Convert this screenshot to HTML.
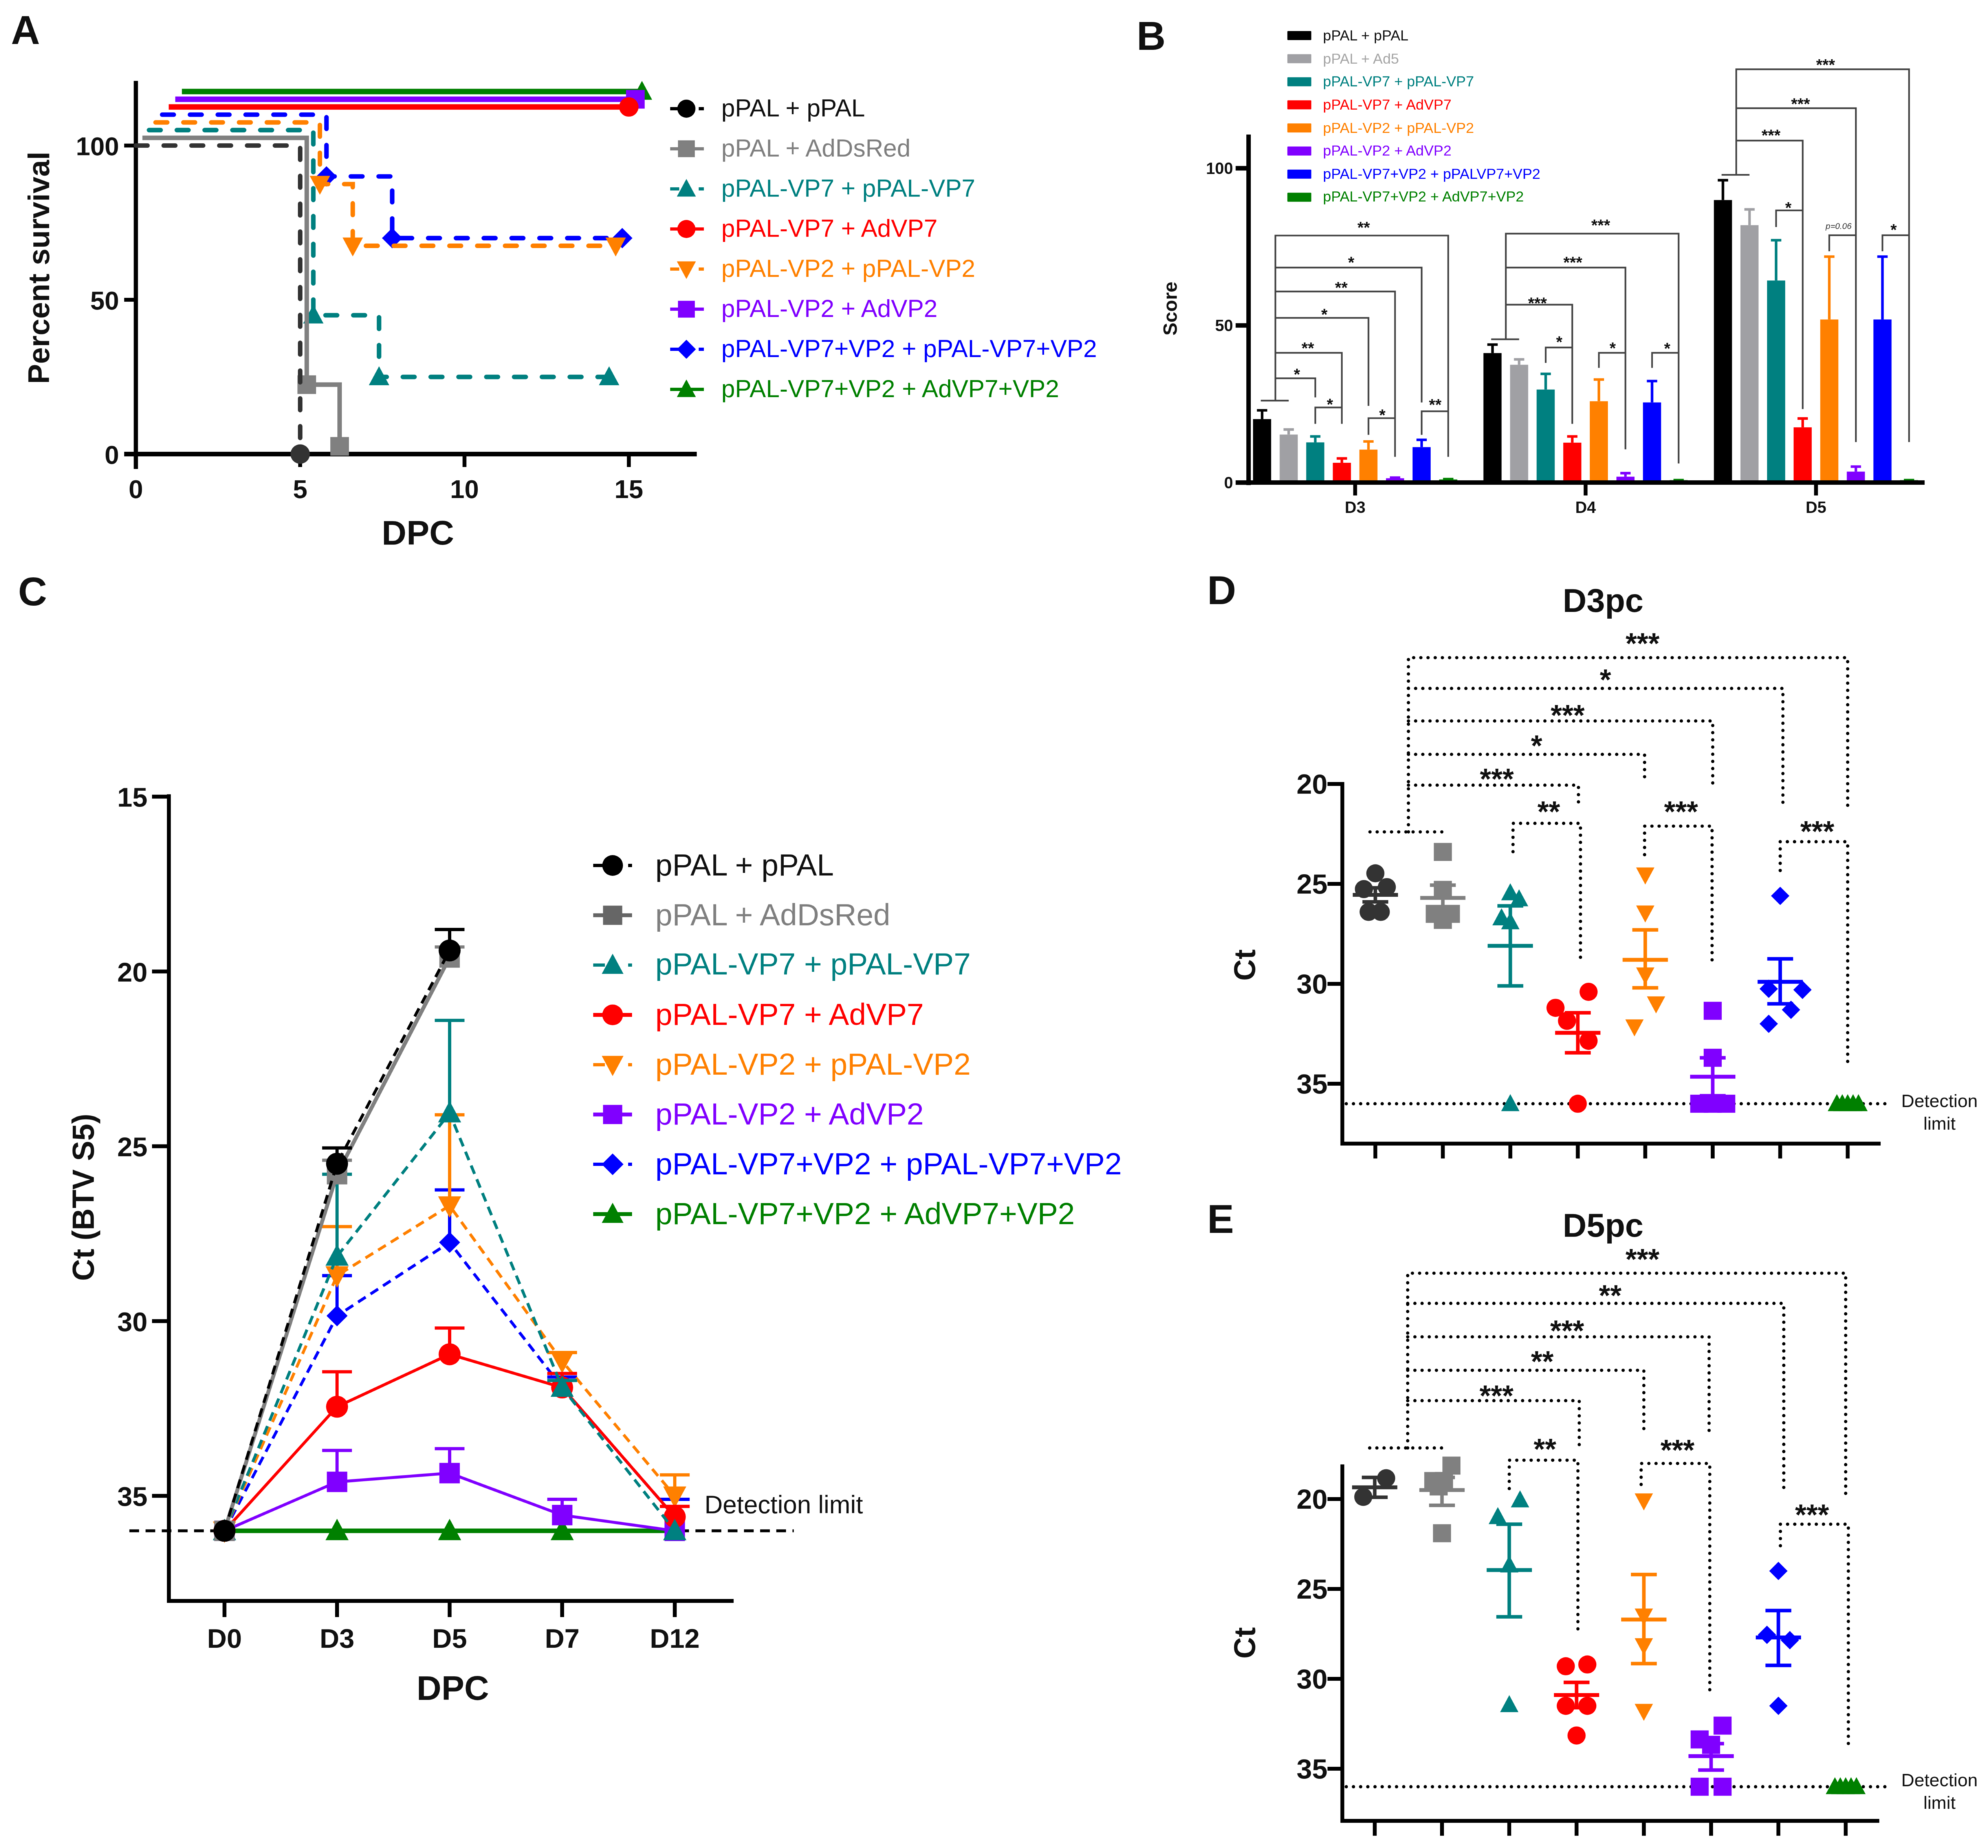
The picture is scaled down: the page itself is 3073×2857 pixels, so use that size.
<!DOCTYPE html>
<html lang="en">
<head>
<meta charset="utf-8">
<title>BTV vaccine survival, score and Ct panels</title>
<style>
html,body{margin:0;padding:0;background:#fff;}
svg{display:block;font-family:"Liberation Sans",sans-serif;filter:blur(0.6px);}
.letter{font-size:62px;font-weight:bold;fill:#111;}
.ti{font-weight:bold;fill:#111;text-anchor:middle;}
.la{font-size:38px;dominant-baseline:central;}
.lb{font-size:22.6px;dominant-baseline:central;}
.lc{font-size:47.2px;dominant-baseline:central;}
.dl{font-size:28px;text-anchor:middle;fill:#111;dominant-baseline:central;}
</style>
</head>
<body>
<svg xmlns="http://www.w3.org/2000/svg" width="3073" height="2857" viewBox="0 0 3073 2857">
<rect width="3073" height="2857" fill="#fff"/>

<g id="panelA">
<text class="letter" x="17" y="68">A</text>
<text class="ti" font-size="46.5" transform="translate(76,414) rotate(-90)">Percent survival</text>
<text class="ti" font-size="53" x="646" y="842">DPC</text>
<g>
<text class="la" x="1115" y="168" fill="#111">pPAL + pPAL</text>
<text class="la" x="1115" y="230" fill="#808080">pPAL + AdDsRed</text>
<text class="la" x="1115" y="292" fill="#008080">pPAL-VP7 + pPAL-VP7</text>
<text class="la" x="1115" y="354" fill="#ff0000">pPAL-VP7 + AdVP7</text>
<text class="la" x="1115" y="416" fill="#ff8000">pPAL-VP2 + pPAL-VP2</text>
<text class="la" x="1115" y="478" fill="#8000ff">pPAL-VP2 + AdVP2</text>
<text class="la" x="1115" y="540" fill="#0000ff">pPAL-VP7+VP2 + pPAL-VP7+VP2</text>
<text class="la" x="1115" y="602" fill="#008000">pPAL-VP7+VP2 + AdVP7+VP2</text>
</g>
</g>

<g id="panelB">
<text class="letter" x="1757" y="77">B</text>
<text class="ti" font-size="30" transform="translate(1819,477) rotate(-90)">Score</text>
<g>
<text class="lb" x="2045" y="55" fill="#111">pPAL + pPAL</text>
<text class="lb" x="2045" y="91" fill="#a6a6a6">pPAL + Ad5</text>
<text class="lb" x="2045" y="126" fill="#008080">pPAL-VP7 + pPAL-VP7</text>
<text class="lb" x="2045" y="162" fill="#ff0000">pPAL-VP7 + AdVP7</text>
<text class="lb" x="2045" y="198" fill="#ff8000">pPAL-VP2 + pPAL-VP2</text>
<text class="lb" x="2045" y="233" fill="#8000ff">pPAL-VP2 + AdVP2</text>
<text class="lb" x="2045" y="269" fill="#0000ff">pPAL-VP7+VP2 + pPALVP7+VP2</text>
<text class="lb" x="2045" y="304" fill="#008000">pPAL-VP7+VP2 + AdVP7+VP2</text>
</g>
</g>

<g id="panelC">
<text class="letter" x="28" y="936">C</text>
<text class="ti" font-size="47" transform="translate(145,1851) rotate(-90)">Ct (BTV S5)</text>
<text class="ti" font-size="53" x="700" y="2628">DPC</text>
<text x="1089" y="2327" font-size="39" fill="#111" dominant-baseline="central">Detection limit</text>
<g>
<text class="lc" x="1013" y="1338" fill="#111">pPAL + pPAL</text>
<text class="lc" x="1013" y="1415" fill="#808080">pPAL + AdDsRed</text>
<text class="lc" x="1013" y="1491" fill="#008080">pPAL-VP7 + pPAL-VP7</text>
<text class="lc" x="1013" y="1569" fill="#ff0000">pPAL-VP7 + AdVP7</text>
<text class="lc" x="1013" y="1646" fill="#ff8000">pPAL-VP2 + pPAL-VP2</text>
<text class="lc" x="1013" y="1723" fill="#8000ff">pPAL-VP2 + AdVP2</text>
<text class="lc" x="1013" y="1800" fill="#0000ff">pPAL-VP7+VP2 + pPAL-VP7+VP2</text>
<text class="lc" x="1013" y="1877" fill="#008000">pPAL-VP7+VP2 + AdVP7+VP2</text>
</g>
</g>

<g id="panelD">
<text class="letter" x="1866" y="934">D</text>
<text class="ti" font-size="51" x="2478" y="946">D3pc</text>
<text class="ti" font-size="46" transform="translate(1940,1492) rotate(-90)">Ct</text>
<text class="dl" x="2998" y="1702">Detection</text>
<text class="dl" x="2998" y="1737">limit</text>
</g>

<g id="panelE">
<text class="letter" x="1866" y="1906">E</text>
<text class="ti" font-size="51" x="2478" y="1912">D5pc</text>
<text class="ti" font-size="46" transform="translate(1940,2540) rotate(-90)">Ct</text>
<text class="dl" x="2998" y="2752">Detection</text>
<text class="dl" x="2998" y="2787">limit</text>
</g>
</svg>

<script>
/* ---------- shared series ---------- */
const groupNames = ['ppal-ppal','ppal-ad','vp7-vp7','vp7-ad','vp2-vp2','vp2-ad','vp7vp2-ppal','vp7vp2-ad'];

/* ---------- panel A: survival steps [day, percent] ---------- */
const survPpal = [[0,100],[5,0]];
const survAd = [[0,100],[5,20],[6,0]];
const survVp7 = [[0,100],[5,40],[7,20],[14,20]];
const survVp7Ad = [[0,100],[14,100]];
const survVp2 = [[0,100],[5,80],[6,60],[14,60]];
const survVp2Ad = [[0,100],[14,100]];
const survBoth = [[0,100],[5,80],[7,60],[14,60]];
const survBothAd = [[0,100],[14,100]];
const survivalTicksX = [0,5,10,15];
const survivalTicksY = [0,50,100];

/* ---------- panel B: score bars ---------- */
const scoreDays = ['D3','D4','D5'];
const scoreTicks = [0,50,100];
const scoreD3 = [20.2,15.3,12.8,6.3,10.5,1.4,11.3,1.0];
const scoreD4 = [41.2,37.5,29.6,12.7,25.9,1.9,25.5,0.8];
const scoreD5 = [89.9,81.9,64.3,17.6,51.9,3.5,51.9,0.8];
const scoreErrD3 = [23,16.9,14.7,7.7,13.1,1.6,13.6,1.1];
const scoreErrD4 = [43.9,39.2,34.6,14.7,32.8,3,32.3,0.8];
const scoreErrD5 = [96.2,86.9,77.1,20.4,71.9,5.1,71.9,0.8];

/* ---------- panel C: Ct time course ---------- */
const ctDays = ['D0','D3','D5','D7','D12'];
const ctTicks = [15,20,25,30,35];
const ctPpal = [36,25.5,19.4,null,null];
const ctAd = [36,25.8,19.6,null,null];
const ctVp7 = [36,28.15,24.05,31.9,36];
const ctVp7Ad = [36,32.45,30.95,31.9,35.6];
const ctVp2 = [36,28.7,26.7,31.15,35];
const ctVp2Ad = [36,34.6,34.35,35.55,36];
const ctBoth = [36,29.85,27.75,31.9,35.6];
const ctBothAd = [36,36,36,36,36];
const ctErrPpal = [36,25.05,18.8,null,null];
const ctErrAd = [36,25.4,19.3,null,null];
const ctErrVp7 = [36,25.8,21.4,31.7,36];
const ctErrVp7Ad = [36,31.45,30.2,31.5,35.3];
const ctErrVp2 = [36,27.3,24.1,30.9,34.4];
const ctErrVp2Ad = [36,33.7,33.65,35.1,36];
const ctErrBoth = [36,28.7,26.25,31.6,35.1];
const ctErrBothAd = [36,36,36,36,36];
const detectionLimit = 36;

/* ---------- panel D: D3pc scatter ---------- */
const d3Ticks = [20,25,30,35];
const d3Points0 = [24.47,25.26,25.16,26.4,26.4];
const d3Points1 = [23.4,25.3,26.5,26.5,26.8];
const d3Points2 = [25.45,25.75,26.7,26.9,36];
const d3Points3 = [30.4,31.2,31.85,32.85,36];
const d3Points4 = [24.55,26.45,29.55,31,32.15];
const d3Points5 = [31.35,33.7,36,36,36];
const d3Points6 = [25.6,30.25,30.3,31.3,32];
const d3Points7 = [36,36,36,36,36];
const d3Mean = [25.55,25.7,28.1,32.45,28.8,34.65,29.9,36];
const d3ErrHigh = [25.2,25.06,26.1,31.45,27.3,33.7,28.75,36];
const d3ErrLow = [25.9,26.3,30.1,33.45,30.2,35.6,31,36];

/* ---------- panel E: D5pc scatter ---------- */
const d5Ticks = [20,25,30,35];
const d5Points0 = [18.84,19.88];
const d5Points1 = [18.14,19,19,19.3,21.9];
const d5Points2 = [20.05,20.98,23.67,31.44];
const d5Points3 = [29.3,29.2,31.5,31.5,33.15];
const d5Points4 = [20.1,26.5,28.15,31.8];
const d5Points5 = [32.6,33.37,33.67,36,36];
const d5Points6 = [24,27.55,27.85,31.5];
const d5Points7 = [36,36,36,36,36];
const d5Mean = [19.35,19.5,23.95,30.9,26.7,34.3,27.7,36];
const d5ErrHigh = [18.8,18.8,21.4,30.2,24.2,33.6,26.2,36];
const d5ErrLow = [19.9,20.35,26.55,31.6,29.15,35.07,29.25,36];

/* ---------- styling (not data) ---------- */
const colors = ['#333333','#808080','#008080','#ff0000','#ff8000','#8000ff','#0000ff','#008000'];
const shapes = ['circle','square','tri','circle','inv','square','diamond','tri'];
const survDashed = [true,false,true,false,true,false,true,false];
const survRank = [0,1,2,5,3,6,4,7];
const ctDashed = [true,false,true,false,true,false,true,false];
const barColors = ['#000000','#a0a0a4','#008080','#ff0000','#ff8000','#8000ff','#0000ff','#008000'];
const jitterD = [[0,-.17,.17,-.1,.08],[0,0,-.12,.12,0],[0,.13,-.13,0,0],[.16,-.33,-.16,.16,0],[0,0,0,.16,-.16],[0,0,-.2,0,.2],[0,-.17,.33,.16,-.17],[-.16,-.08,0,.08,.16]];
const jitterE = [[.17,-.17],[.14,-.13,.03,-.05,0],[.16,-.17,0,0],[-.16,.16,-.16,.16,0],[0,0,0,0],[.17,-.17,0,-.17,.17],[0,-.17,.17,0],[-.16,-.08,0,.08,.16]];
const scatterSize = {circle: 14, square: 15, tri: 13.5, inv: 13.5, diamond: 13.5};

const NS = 'http://www.w3.org/2000/svg';
function add(parent, tag, name, attrs) {
  const el = document.createElementNS(NS, tag);
  
  
  for (const k in attrs) el.setAttribute(k, attrs[k]);
  parent.appendChild(el);
  return el;
}
function line(p, name, x1, y1, x2, y2, stroke, w, extra) {
  return add(p, 'line', name, Object.assign({x1, y1, x2, y2, stroke, 'stroke-width': w}, extra || {}));
}
function poly(p, name, pts, stroke, w, extra) {
  return add(p, 'polyline', name, Object.assign({points: pts.map(a => a.join(',')).join(' '), fill: 'none', stroke, 'stroke-width': w}, extra || {}));
}
function label(p, name, txt, x, y, size, anchor, bold, extra) {
  const t = add(p, 'text', name, Object.assign({x, y, 'font-size': size, 'text-anchor': anchor, 'font-weight': bold ? 'bold' : 'normal', fill: '#111', 'dominant-baseline': 'central'}, extra || {}));
  t.textContent = txt;
  return t;
}
function stars(p, name, txt, x, cy, size) {
  const t = add(p, 'text', name, {x, y: cy + size * 0.56, 'font-size': size, 'text-anchor': 'middle', 'font-weight': 'bold', fill: '#111'});
  t.textContent = txt;
  return t;
}
function marker(p, name, shape, x, y, s, color) {
  if (shape === 'circle') return add(p, 'circle', name, {cx: x, cy: y, r: s, fill: color});
  if (shape === 'square') return add(p, 'rect', name, {x: x - s * .93, y: y - s * .93, width: s * 1.86, height: s * 1.86, fill: color});
  let pts;
  if (shape === 'tri') pts = [[x, y - s * 1.1], [x + s * 1.05, y + s * .85], [x - s * 1.05, y + s * .85]];
  if (shape === 'inv') pts = [[x, y + s * 1.1], [x + s * 1.05, y - s * .85], [x - s * 1.05, y - s * .85]];
  if (shape === 'diamond') pts = [[x, y - s * 1.05], [x + s * 1.05, y], [x, y + s * 1.05], [x - s * 1.05, y]];
  return add(p, 'polygon', name, {points: pts.map(a => a.join(',')).join(' '), fill: color});
}

/* ---------- PANEL A ---------- */
(function () {
  const root = document.getElementById('panelA');
  const series = [survPpal, survAd, survVp7, survVp7Ad, survVp2, survVp2Ad, survBoth, survBothAd];
  const X = d => 210 + d * 50.8;
  const Y = v => 702 - v * 4.77;
  const axes = add(root, 'g', 'a-axes', {});
  line(axes, 'a-y-axis', 210, 125, 210, 725, '#000', 6.5);
  line(axes, 'a-x-axis', 192, 702, 1077, 702, '#000', 7);
  survivalTicksY.forEach(v => {
    line(axes, 'a-y-tick', 192, Y(v), 210, Y(v), '#000', 6);
    label(axes, 'a-y-tick-label', v, 184, Y(v) + 2, 40, 'end', true);
  });
  survivalTicksX.forEach(d => {
    line(axes, 'a-x-tick', X(d), 702, X(d), 722, '#000', 6);
    label(axes, 'a-x-tick-label', d, X(d), 757, 40, 'middle', true);
  });
  for (let i = 7; i >= 0; i--) {
    const g = add(root, 'g', 'a-series-' + groupNames[i], {});
    const ox = survRank[i] * 0.2, oy = survRank[i] * 2.5;
    const pts = [];
    const s = series[i];
    s.forEach((pt, k) => {
      if (k > 0) pts.push([X(pt[0] + ox), Y(s[k - 1][1] + oy)]);
      pts.push([X(pt[0] + ox), Y(pt[1] + oy)]);
    });
    poly(g, 'a-line-' + groupNames[i], pts, colors[i], survDashed[i] ? 7 : (i === 1 ? 7 : 8.5), survDashed[i] ? {'stroke-dasharray': '18 25', 'stroke-linecap': 'round'} : {});
    s.slice(1).forEach(pt => {
      marker(g, 'a-marker-' + groupNames[i], shapes[i], X(pt[0] + ox), Y(pt[1] + oy), shapes[i] === 'square' ? 15.5 : 15, colors[i]);
    });
    const ly = 168 + i * 62;
    line(g, 'a-legend-line-' + groupNames[i], 1036, ly, 1088, ly, i === 0 ? '#000' : colors[i], 5, survDashed[i] ? {'stroke-dasharray': '14 30 8'} : {});
    marker(g, 'a-legend-marker-' + groupNames[i], shapes[i], 1061, ly, 14, i === 0 ? '#000' : colors[i]);
  }
})();

/* ---------- PANEL B ---------- */
(function () {
  const root = document.getElementById('panelB');
  const vals = [scoreD3, scoreD4, scoreD5];
  const errs = [scoreErrD3, scoreErrD4, scoreErrD5];
  const Y = v => 1463 * .51 - v * 4.86;
  const X = (g, s) => 1750 + .844 * (408.5 + 422 * g) + (s - 3.5) * 41.1;
  const axes = add(root, 'g', 'b-axes', {});
  vals.forEach((row, g) => {
    row.forEach((v, s) => {
      line(axes, 'b-error-' + scoreDays[g] + '-' + groupNames[s], X(g, s), Y(v), X(g, s), Y(errs[g][s]), barColors[s], 4);
      line(axes, 'b-error-cap-' + scoreDays[g] + '-' + groupNames[s], X(g, s) - 8, Y(errs[g][s]), X(g, s) + 8, Y(errs[g][s]), barColors[s], 4);
      add(axes, 'rect', 'b-bar-' + scoreDays[g] + '-' + groupNames[s], {x: X(g, s) - 14, y: Y(v), width: 28, height: Y(0) - Y(v), fill: barColors[s]});
    });
  });
  line(axes, 'b-y-axis', 1930, 208, 1930, 750, '#000', 7);
  line(axes, 'b-x-axis', 1910, 746, 2975, 746, '#000', 7);
  scoreTicks.forEach(v => {
    line(axes, 'b-y-tick', 1910, Y(v), 1930, Y(v), '#000', 7);
    label(axes, 'b-y-tick-label', v, 1906, Y(v) + 1, 25, 'end', true);
  });
  scoreDays.forEach((d, g) => {
    line(axes, 'b-x-tick', X(g, 3.5), 746, X(g, 3.5), 766, '#000', 6);
    label(axes, 'b-x-tick-label', d, X(g, 3.5), 785, 25, 'middle', true);
  });
  barColors.forEach((c, i) => {
    add(root, 'rect', 'b-legend-swatch-' + groupNames[i], {x: 1990, y: 48 + i * 35.7, width: 37, height: 14, fill: c, rx: 1});
  });
  /* comparison brackets: [group, [[seriesPos, score]...]] */
  const brackets = [
    [0,[[-.05,26.1],[1.0,26.1]]],[0,[[.5,26.1],[.5,78.6],[7,78.6],[7,8.2]]],[0,[[.5,33.2],[2,33.2],[2,27.1]]],
    [0,[[.5,41.3],[3,41.3],[3,18.7]]],[0,[[.5,52.4],[4,52.4],[4,24.4]]],[0,[[.5,60.8],[5,60.8],[5,8.2]]],
    [0,[[.5,68.4],[6,68.4],[6,25.5]]],[0,[[2,18.7],[2,23.9],[3,23.9]]],[0,[[4,15.2],[4,20.5],[5,20.5]]],[0,[[6,15.2],[6,22.7],[7,22.7]]],
    [1,[[-.05,45.6],[1.0,45.6]]],[1,[[.5,45.6],[.5,79.2],[7,79.2],[7,6.1]]],[1,[[.5,56.6],[3,56.6],[3,18.7]]],[1,[[.5,68.4],[5,68.4],[5,10.6]]],
    [1,[[2,38.1],[2,43],[3,43]]],[1,[[4,36.5],[4,41.3],[5,41.3]]],[1,[[6,36.5],[6,41.3],[7,41.3]]],
    [2,[[-.05,97.9],[1.0,97.9]]],[2,[[.5,97.9],[.5,131.5],[7,131.5],[7,12.9]]],[2,[[.5,108.8],[3,108.8],[3,23.4]]],[2,[[.5,119.1],[5,119.1],[5,12.9]]],
    [2,[[2,81.3],[2,86.6],[3,86.6]]],[2,[[4,73.6],[4,78.7],[5,78.7]]],[2,[[6,73.6],[6,78.7],[7,78.7]]]
  ];
  const brk = add(root, 'g', 'b-significance-brackets', {});
  brackets.forEach(b => {
    poly(brk, 'b-bracket', b[1].map(p => [X(b[0], p[0]), Y(p[1])]), '#444', 2.6);
  });
  const labels = [
    [0,1.31,35.5,'*'],[0,1.72,43.9,'**'],[0,2.34,54.6,'*'],[0,2.98,63.1,'**'],[0,3.35,71.1,'*'],[0,3.82,82.2,'**'],[0,2.55,26,'*'],[0,4.52,22.6,'*'],[0,6.51,25.9,'**'],
    [1,1.69,58.2,'***'],[1,3.02,71.1,'***'],[1,4.07,82.9,'***'],[1,2.51,45.8,'*'],[1,4.52,43.9,'*'],[1,6.57,43.7,'*'],
    [2,1.81,111.5,'***'],[2,2.92,121.5,'***'],[2,3.86,134,'***'],[2,2.46,88.5,'*'],[2,6.42,81.5,'*']
  ];
  labels.forEach(l => stars(brk, 'b-significance-label', l[3], X(l[0], l[1]), Y(l[2]), 25));
  const pv = add(brk, 'text', 'b-p-value-label', {x: X(2, 4.35), y: Y(81.6), 'font-size': 13, 'font-style': 'italic', 'text-anchor': 'middle', fill: '#333', 'dominant-baseline': 'central'});
  pv.textContent = 'p=0.06';
})();

/* ---------- PANEL C ---------- */
(function () {
  const root = document.getElementById('panelC');
  const series = [ctPpal, ctAd, ctVp7, ctVp7Ad, ctVp2, ctVp2Ad, ctBoth, ctBothAd];
  const errs = [ctErrPpal, ctErrAd, ctErrVp7, ctErrVp7Ad, ctErrVp2, ctErrVp2Ad, ctErrBoth, ctErrBothAd];
  const X = i => 347 + i * 174;
  const Y = v => 1231.6 + (v - 15) * 54.05;
  const axes = add(root, 'g', 'c-axes', {});
  line(axes, 'c-y-axis', 261, 1228, 261, 2478, '#000', 6);
  line(axes, 'c-x-axis', 258, 2475, 1134, 2475, '#000', 6);
  ctTicks.forEach(v => {
    line(axes, 'c-y-tick', 235, Y(v), 261, Y(v), '#000', 6);
    label(axes, 'c-y-tick-label', v, 228, Y(v) + 1, 42, 'end', true);
  });
  ctDays.forEach((d, i) => {
    line(axes, 'c-x-tick', X(i), 2475, X(i), 2500, '#000', 6);
    label(axes, 'c-x-tick-label', d, X(i), 2533, 42, 'middle', true);
  });
  line(root, 'c-detection-limit-line', 200, Y(detectionLimit), 1227, Y(detectionLimit), '#000', 4.5, {'stroke-dasharray': '15 10'});
  for (let i = 7; i >= 0; i--) {
    const g = add(root, 'g', 'c-series-' + groupNames[i], {});
    const pts = [];
    series[i].forEach((v, k) => { if (v !== null) pts.push([X(k), Y(v)]); });
    series[i].forEach((v, k) => {
      if (v === null || errs[i][k] === null || errs[i][k] === v) return;
      line(g, 'c-error-' + groupNames[i], X(k), Y(v), X(k), Y(errs[i][k]), colors[i] === '#333333' ? '#000' : colors[i], 5);
      line(g, 'c-error-cap-' + groupNames[i], X(k) - 23, Y(errs[i][k]), X(k) + 23, Y(errs[i][k]), colors[i] === '#333333' ? '#000' : colors[i], 5);
    });
    const w = i === 1 ? 6 : (i === 7 ? 7 : 4.5);
    poly(g, 'c-line-' + groupNames[i], pts, i === 0 ? '#000' : colors[i], w, ctDashed[i] ? {'stroke-dasharray': '14 9'} : {});
    series[i].forEach((v, k) => {
      if (v !== null) marker(g, 'c-marker-' + groupNames[i] + '-' + ctDays[k], shapes[i], X(k), Y(v), shapes[i] === 'diamond' ? 15.5 : (i === 1 || i === 5 ? 17 : 17), i === 0 ? '#000' : colors[i]);
    });
    const ly = 1338 + i * 77;
    const lc = i === 0 ? '#000' : (i === 1 ? '#666' : colors[i]);
    line(g, 'c-legend-line-' + groupNames[i], 917, ly, 977, ly, lc, ctDashed[i] ? 5 : 6, ctDashed[i] ? {'stroke-dasharray': '18 36 6'} : {});
    marker(g, 'c-legend-marker-' + groupNames[i], shapes[i], 947, ly, 16, lc);
  }
})();

/* ---------- PANELS D / E ---------- */
function scatterPanel(cfg) {
  const root = document.getElementById(cfg.id);
  const p = cfg.prefix;
  const dots = {'stroke-dasharray': '0.1 11', 'stroke-linecap': 'round', 'stroke-linejoin': 'round'};
  const X = c => cfg.x0 + c * cfg.dx;
  const Y = v => cfg.y20 + (v - 20) * cfg.unit;
  const axes = add(root, 'g', p + '-axes', {});
  line(axes, p + '-y-axis', 2075, cfg.top, 2075, cfg.base + 3, '#000', 6);
  line(axes, p + '-x-axis', 2072, cfg.base, cfg.right, cfg.base, '#000', 6);
  cfg.ticks.forEach(v => {
    line(axes, p + '-y-tick', 2052, Y(v), 2075, Y(v), '#000', 6);
    label(axes, p + '-y-tick-label', v, 2054, Y(v) + 1, 43, 'end', true, {'transform': 'translate(-2,0)'});
  });
  groupNames.forEach((n, c) => {
    line(axes, p + '-x-tick', X(c), cfg.base, X(c), cfg.base + 23, '#000', 6);
  });
  line(root, p + '-detection-limit-line', 2081, Y(detectionLimit), cfg.right + 17, Y(detectionLimit), '#000', 5, dots);
  cfg.points.forEach((pts, c) => {
    const g = add(root, 'g', p + '-group-' + groupNames[c], {});
    pts.forEach((v, k) => {
      marker(g, p + '-point-' + groupNames[c], shapes[c], X(c + cfg.jitter[c][k]), Y(v), scatterSize[shapes[c]], colors[c]);
    });
    if (c === 7) return;
    const xc = X(c);
    line(g, p + '-mean-' + groupNames[c], xc - 35, Y(cfg.mean[c]), xc + 35, Y(cfg.mean[c]), colors[c], 6);
    line(g, p + '-error-' + groupNames[c], xc, Y(cfg.hi[c]), xc, Y(cfg.lo[c]), colors[c], 5.5);
    line(g, p + '-error-cap-high-' + groupNames[c], xc - 20, Y(cfg.hi[c]), xc + 20, Y(cfg.hi[c]), colors[c], 5.5);
    line(g, p + '-error-cap-low-' + groupNames[c], xc - 20, Y(cfg.lo[c]), xc + 20, Y(cfg.lo[c]), colors[c], 5.5);
  });
  const brk = add(root, 'g', p + '-significance-brackets', {});
  cfg.brackets.forEach(b => {
    poly(brk, p + '-bracket', b.map(q => [X(q[0]), Y(q[1])]), '#000', 5, dots);
  });
  cfg.labels.forEach(l => stars(brk, p + '-significance-label', l[2], X(l[0]), Y(l[1]), 45));
}
scatterPanel({
  id: 'panelD', prefix: 'd', x0: 2126, dx: 104.3, y20: 1212, unit: 30.9, top: 1209, base: 1768, right: 2907,
  ticks: d3Ticks, jitter: jitterD,
  points: [d3Points0, d3Points1, d3Points2, d3Points3, d3Points4, d3Points5, d3Points6, d3Points7],
  mean: d3Mean, hi: d3ErrHigh, lo: d3ErrLow,
  brackets: [
    [[-.08,22.4],[1.03,22.4]],
    [[.49,22.4],[.49,13.68],[7,13.68],[7,21.26]],
    [[.49,15.22],[6.04,15.22],[6.04,21.18]],
    [[.49,16.85],[5,16.85],[5,20.24]],
    [[.49,18.52],[3.99,18.52],[3.99,19.84]],
    [[.49,20.06],[3.01,20.06],[3.01,20.93]],
    [[2.04,23.39],[2.04,21.97],[3.04,21.97],[3.04,28.86]],
    [[3.99,23.54],[3.99,22.11],[4.99,22.11],[4.99,29]],
    [[6,24.33],[6,22.89],[7,22.89],[7,34.11]]
  ],
  labels: [[3.96,12.66,'***'],[3.41,14.47,'*'],[2.85,16.26,'***'],[2.39,17.78,'*'],[1.8,19.45,'***'],[2.57,21.08,'**'],[4.53,21.08,'***'],[6.55,22.07,'***']]
});
scatterPanel({
  id: 'panelE', prefix: 'e', x0: 2125, dx: 104, y20: 2317.5, unit: 27.8, top: 2264, base: 2815, right: 2905,
  ticks: d5Ticks, jitter: jitterE,
  points: [d5Points0, d5Points1, d5Points2, d5Points3, d5Points4, d5Points5, d5Points6, d5Points7],
  mean: d5Mean, hi: d5ErrHigh, lo: d5ErrLow,
  brackets: [
    [[-.075,17.16],[1.03,17.16]],
    [[.49,17.16],[.49,7.44],[7,7.44],[7,20]],
    [[.49,9.12],[6.08,9.12],[6.08,19.65]],
    [[.49,10.98],[4.97,10.98],[4.97,16.51]],
    [[.49,12.84],[4,12.84],[4,16.28]],
    [[.49,14.53],[3.04,14.53],[3.04,17.09]],
    [[2,19.42],[2,17.84],[3.02,17.84],[3.02,27.56]],
    [[3.96,19.19],[3.96,18.02],[4.98,18.02],[4.98,30.88]],
    [[6.03,22.6],[6.03,21.4],[7.04,21.4],[7.04,33.9]]
  ],
  labels: [[3.98,6.33,'***'],[3.5,8.33,'**'],[2.86,10.3,'***'],[2.49,12,'**'],[1.81,13.91,'***'],[2.53,16.88,'**'],[4.5,16.93,'***'],[6.5,20.53,'***']]
});
</script>
</body>
</html>
